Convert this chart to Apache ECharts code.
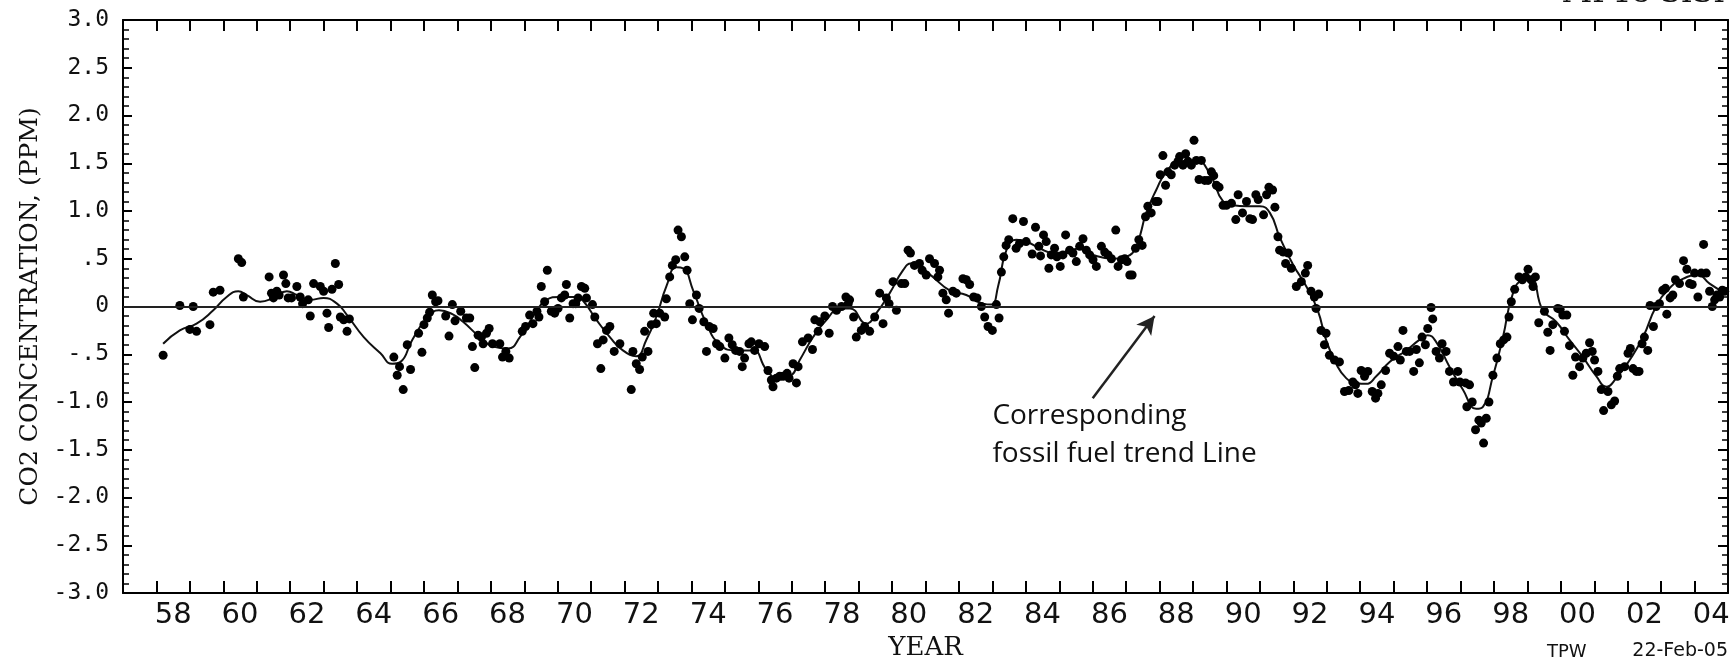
<!DOCTYPE html>
<html>
<head>
<meta charset="utf-8">
<script src="https://cdn.jsdelivr.net/npm/echarts@6/dist/echarts.min.js"></script>
<style>
html,body{margin:0;padding:0;background:#ffffff;}
#chart{width:1730px;height:666px;}
</style>
</head>
<body>
<div id="chart"></div>
<script>
// ---------------- DATA ----------------
const yearCategories = [1957,1958,1959,1960,1961,1962,1963,1964,1965,1966,1967,1968,1969,1970,
  1971,1972,1973,1974,1975,1976,1977,1978,1979,1980,1981,1982,1983,1984,1985,1986,1987,1988,
  1989,1990,1991,1992,1993,1994,1995,1996,1997,1998,1999,2000,2001,2002,2003,2004];

const obs1950s = [[1958.2,-0.51],[1958.7,0.01],[1959.0,-0.24],[1959.1,0.00],[1959.2,-0.26],[1959.6,-0.19],[1959.7,0.15],[1959.9,0.17]];

const obs1960s = [[1960.45,0.50],[1960.55,0.46],[1960.6,0.10],
 [1961.37,0.31],[1961.44,0.14],[1961.5,0.09],[1961.6,0.16],[1961.67,0.12],[1961.8,0.33],[1961.87,0.24],[1961.94,0.09],
 [1962.04,0.09],[1962.2,0.21],[1962.3,0.10],[1962.37,0.03],[1962.54,0.07],[1962.6,-0.10],[1962.7,0.24],[1962.9,0.21],
 [1963.0,0.16],[1963.1,-0.07],[1963.15,-0.22],[1963.25,0.18],[1963.35,0.45],[1963.45,0.23],[1963.5,-0.11],[1963.6,-0.14],[1963.7,-0.26],[1963.77,-0.13],
 [1965.1,-0.53],[1965.2,-0.72],[1965.27,-0.63],[1965.38,-0.87],[1965.5,-0.40],[1965.6,-0.66],[1965.84,-0.28],[1965.94,-0.48],
 [1966.0,-0.19],[1966.1,-0.12],[1966.17,-0.06],[1966.25,0.12],[1966.35,0.05],[1966.42,0.06],[1966.65,-0.10],[1966.75,-0.31],[1966.85,0.02],[1966.93,-0.15],
 [1967.1,-0.05],[1967.27,-0.12],[1967.37,-0.12],[1967.45,-0.42],[1967.52,-0.64],[1967.62,-0.30],[1967.72,-0.32],[1967.77,-0.39],[1967.87,-0.28],[1967.95,-0.23],
 [1968.05,-0.39],[1968.27,-0.39],[1968.35,-0.53],[1968.45,-0.47],[1968.55,-0.54],[1968.94,-0.26],
 [1969.04,-0.21],[1969.16,-0.09],[1969.26,-0.18],[1969.38,-0.05],[1969.44,-0.11],[1969.51,0.21],[1969.61,0.05],[1969.69,0.38],[1969.81,-0.05],[1969.91,-0.07]];

const obs1970s = [[1970.01,-0.02],[1970.11,0.09],[1970.21,0.12],[1970.26,0.23],[1970.36,-0.12],[1970.46,0.03],[1970.54,0.03],[1970.61,0.09],[1970.71,0.21],[1970.81,0.19],[1970.86,0.09],
 [1971.04,0.02],[1971.11,-0.11],[1971.19,-0.39],[1971.29,-0.65],[1971.36,-0.35],[1971.46,-0.25],[1971.56,-0.21],[1971.69,-0.47],[1971.86,-0.39],
 [1972.2,-0.87],[1972.25,-0.47],[1972.35,-0.60],[1972.45,-0.66],[1972.53,-0.53],[1972.6,-0.26],[1972.7,-0.47],[1972.8,-0.19],[1972.87,-0.07],[1972.95,-0.18],
 [1973.05,-0.07],[1973.2,-0.11],[1973.25,0.08],[1973.35,0.31],[1973.43,0.43],[1973.53,0.49],[1973.6,0.80],[1973.7,0.73],[1973.8,0.52],[1973.87,0.38],[1973.95,0.03],
 [1974.03,-0.14],[1974.15,0.12],[1974.23,-0.02],[1974.37,-0.16],[1974.45,-0.47],[1974.53,-0.21],[1974.65,-0.23],[1974.75,-0.39],[1974.85,-0.42],
 [1975.0,-0.54],[1975.12,-0.33],[1975.22,-0.40],[1975.32,-0.46],[1975.44,-0.47],[1975.52,-0.63],[1975.59,-0.54],[1975.72,-0.39],[1975.79,-0.37],[1975.89,-0.46],
 [1976.02,-0.39],[1976.19,-0.42],[1976.29,-0.67],[1976.39,-0.77],[1976.44,-0.84],[1976.54,-0.75],[1976.64,-0.73],[1976.74,-0.73],[1976.86,-0.70],[1976.92,-0.75],
 [1977.04,-0.60],[1977.14,-0.80],[1977.19,-0.63],[1977.32,-0.37],[1977.49,-0.33],[1977.62,-0.45],[1977.69,-0.14],[1977.79,-0.26],[1977.84,-0.16],[1977.99,-0.10],
 [1978.12,-0.28],[1978.22,0.00],[1978.34,-0.04],[1978.49,0.00],[1978.62,0.10],[1978.69,0.03],[1978.73,0.07],[1978.85,-0.11],[1978.93,-0.32],
 [1979.08,-0.25],[1979.18,-0.21],[1979.33,-0.26],[1979.48,-0.11],[1979.63,0.14],[1979.73,-0.18],[1979.83,0.09],[1979.91,0.03]];

const obs1980s = [[1980.03,0.26],[1980.13,-0.04],[1980.28,0.24],[1980.38,0.24],[1980.48,0.59],[1980.55,0.56],[1980.67,0.43],[1980.82,0.45],[1980.9,0.38],
 [1981.02,0.33],[1981.12,0.50],[1981.27,0.45],[1981.37,0.31],[1981.42,0.38],[1981.52,0.14],[1981.62,0.07],[1981.69,-0.07],[1981.82,0.16],[1981.92,0.14],
 [1982.12,0.29],[1982.22,0.28],[1982.32,0.23],[1982.44,0.10],[1982.54,0.09],[1982.67,0.00],[1982.77,-0.11],[1982.87,-0.21],
 [1983.0,-0.25],[1983.12,0.02],[1983.2,-0.12],[1983.27,0.36],[1983.34,0.52],[1983.41,0.64],[1983.49,0.70],[1983.61,0.92],[1983.71,0.61],[1983.81,0.66],[1983.93,0.89],
 [1984.01,0.68],[1984.19,0.55],[1984.29,0.83],[1984.39,0.63],[1984.44,0.53],[1984.53,0.75],[1984.61,0.68],[1984.69,0.40],[1984.76,0.54],[1984.86,0.61],[1984.93,0.52],
 [1985.03,0.42],[1985.11,0.54],[1985.19,0.75],[1985.31,0.59],[1985.41,0.56],[1985.51,0.47],[1985.61,0.63],[1985.71,0.71],[1985.81,0.59],[1985.91,0.54],
 [1986.01,0.49],[1986.11,0.42],[1986.26,0.63],[1986.36,0.57],[1986.46,0.54],[1986.56,0.50],[1986.69,0.80],[1986.76,0.42],[1986.86,0.49],[1986.96,0.50],
 [1987.03,0.47],[1987.11,0.33],[1987.18,0.33],[1987.28,0.61],[1987.38,0.70],[1987.48,0.64],[1987.58,0.94],[1987.65,1.05],[1987.75,0.98],[1987.88,1.10],[1987.95,1.10],
 [1988.02,1.38],[1988.1,1.58],[1988.18,1.27],[1988.25,1.41],[1988.35,1.38],[1988.45,1.48],[1988.55,1.52],[1988.6,1.57],[1988.7,1.48],[1988.78,1.60],[1988.85,1.52],[1988.95,1.48],
 [1989.03,1.74],[1989.1,1.53],[1989.18,1.33],[1989.25,1.53],[1989.35,1.32],[1989.45,1.32],[1989.55,1.41],[1989.62,1.37],[1989.7,1.27],[1989.78,1.25],[1989.9,1.06]];

const obs1990s = [[1990.0,1.06],[1990.15,1.08],[1990.28,0.91],[1990.35,1.17],[1990.48,0.98],[1990.6,1.10],[1990.7,0.92],[1990.78,0.91],[1990.88,1.17],[1990.95,1.12],
 [1991.11,0.96],[1991.2,1.17],[1991.27,1.25],[1991.38,1.22],[1991.45,1.04],[1991.54,0.73],[1991.59,0.59],[1991.7,0.57],[1991.77,0.45],[1991.85,0.56],[1991.94,0.40],
 [1992.09,0.21],[1992.24,0.26],[1992.36,0.35],[1992.43,0.43],[1992.53,0.16],[1992.63,0.10],[1992.68,-0.02],[1992.76,0.13],[1992.83,-0.25],[1992.93,-0.40],[1992.98,-0.28],
 [1993.08,-0.51],[1993.23,-0.56],[1993.38,-0.58],[1993.53,-0.89],[1993.66,-0.88],[1993.78,-0.79],[1993.86,-0.82],[1993.93,-0.91],
 [1994.03,-0.67],[1994.13,-0.73],[1994.23,-0.68],[1994.36,-0.89],[1994.46,-0.96],[1994.53,-0.91],[1994.63,-0.82],[1994.76,-0.67],[1994.88,-0.49],
 [1995.0,-0.52],[1995.13,-0.42],[1995.2,-0.56],[1995.28,-0.25],[1995.38,-0.47],[1995.48,-0.47],[1995.6,-0.68],[1995.68,-0.45],[1995.77,-0.59],[1995.85,-0.32],[1995.95,-0.40],
 [1996.02,-0.23],[1996.12,-0.01],[1996.17,-0.13],[1996.27,-0.47],[1996.37,-0.54],[1996.45,-0.39],[1996.57,-0.47],[1996.67,-0.68],[1996.79,-0.79],[1996.92,-0.68],[1996.98,-0.79],
 [1997.15,-0.80],[1997.19,-1.05],[1997.27,-0.82],[1997.35,-1.00],[1997.45,-1.29],[1997.55,-1.19],[1997.62,-1.22],[1997.69,-1.43],[1997.77,-1.17],[1997.85,-1.00],[1997.97,-0.72],
 [1998.09,-0.54],[1998.19,-0.39],[1998.29,-0.35],[1998.39,-0.32],[1998.45,-0.11],[1998.52,0.05],[1998.62,0.18],[1998.75,0.31],[1998.85,0.28],[1998.95,0.31],
 [1999.02,0.39],[1999.11,0.28],[1999.17,0.21],[1999.24,0.31],[1999.34,-0.17],[1999.51,-0.05],[1999.61,-0.27],[1999.68,-0.46],[1999.76,-0.19],[1999.91,-0.02],[1999.98,-0.03]];

const obs2000s = [[2000.06,-0.09],[2000.11,-0.26],[2000.18,-0.09],[2000.26,-0.41],[2000.36,-0.72],[2000.44,-0.53],[2000.56,-0.63],[2000.66,-0.54],[2000.76,-0.49],[2000.86,-0.38],[2000.94,-0.47],
 [2001.01,-0.56],[2001.11,-0.68],[2001.21,-0.87],[2001.28,-1.09],[2001.41,-0.89],[2001.51,-1.03],[2001.61,-0.99],[2001.69,-0.73],[2001.76,-0.65],[2001.91,-0.63],
 [2002.01,-0.49],[2002.08,-0.44],[2002.16,-0.65],[2002.26,-0.68],[2002.34,-0.68],[2002.43,-0.39],[2002.5,-0.32],[2002.6,-0.46],[2002.67,0.01],[2002.77,-0.21],[2002.85,0.00],[2002.95,0.03],
 [2003.05,0.17],[2003.13,0.19],[2003.17,-0.08],[2003.27,0.09],[2003.35,0.12],[2003.43,0.28],[2003.55,0.24],[2003.67,0.48],[2003.77,0.39],[2003.85,0.24],[2003.93,0.23],
 [2004.0,0.35],[2004.1,0.10],[2004.2,0.35],[2004.27,0.65],[2004.35,0.35],[2004.45,0.16],[2004.53,0.00],[2004.6,0.07],[2004.67,0.12],[2004.75,0.10],[2004.83,0.17],[2004.9,0.16]];

const trendCurve = [[1958.2,-0.39],[1958.7,-0.25],[1959.2,-0.18],[1959.7,-0.04],[1960.1,0.10],[1960.45,0.16],[1960.7,0.12],
 [1961.1,0.05],[1961.5,0.09],[1961.9,0.16],[1962.2,0.12],[1962.6,0.07],[1963.0,0.09],[1963.4,0.03],[1963.7,-0.09],
 [1964.2,-0.32],[1964.7,-0.49],[1965.05,-0.60],[1965.3,-0.58],[1965.65,-0.35],[1966.05,-0.14],[1966.45,-0.04],[1966.85,-0.08],
 [1967.17,-0.16],[1967.67,-0.32],[1968.07,-0.42],[1968.52,-0.44],[1968.87,-0.32],[1969.37,-0.05],[1969.66,0.07],
 [1970.06,0.10],[1970.56,0.10],[1970.76,0.06],[1971.16,-0.14],[1971.56,-0.32],[1971.95,-0.46],[1972.35,-0.52],[1972.65,-0.35],
 [1972.95,-0.11],[1973.25,0.21],[1973.55,0.41],[1973.75,0.40],[1974.05,0.17],[1974.45,-0.18],[1974.85,-0.40],[1975.35,-0.46],
 [1975.84,-0.46],[1976.24,-0.66],[1976.59,-0.75],[1976.94,-0.73],[1977.24,-0.56],[1977.64,-0.32],[1978.04,-0.14],[1978.44,-0.02],
 [1978.74,-0.02],[1979.23,-0.18],[1979.53,-0.07],[1979.93,0.14],[1980.33,0.38],[1980.57,0.45],[1980.82,0.42],[1981.22,0.31],
 [1981.72,0.17],[1982.22,0.12],[1982.72,0.03],[1982.97,0.02],[1983.17,0.21],[1983.42,0.59],[1983.72,0.70],[1984.01,0.68],
 [1984.41,0.61],[1984.81,0.56],[1985.21,0.57],[1985.61,0.61],[1986.01,0.54],[1986.6,0.50],[1987.0,0.52],[1987.3,0.63],
 [1987.6,0.98],[1987.9,1.22],[1988.2,1.41],[1988.6,1.52],[1989.1,1.53],[1989.5,1.39],[1989.9,1.10],[1990.2,1.06],
 [1990.6,1.05],[1991.0,1.05],[1991.3,0.98],[1991.6,0.72],[1991.99,0.44],[1992.39,0.21],[1992.73,-0.04],[1992.98,-0.35],
 [1993.28,-0.60],[1993.58,-0.75],[1993.88,-0.80],[1994.18,-0.81],[1994.48,-0.73],[1994.88,-0.58],[1995.38,-0.46],[1995.77,-0.35],
 [1996.02,-0.30],[1996.27,-0.37],[1996.67,-0.63],[1997.07,-0.87],[1997.47,-1.07],[1997.67,-1.05],[1997.97,-0.73],[1998.27,-0.32],
 [1998.57,0.14],[1998.87,0.28],[1999.11,0.29],[1999.46,-0.04],[1999.86,-0.16],[2000.26,-0.35],[2000.66,-0.53],[2001.06,-0.73],
 [2001.36,-0.84],[2001.66,-0.75],[2002.06,-0.56],[2002.46,-0.32],[2002.85,0.00],[2003.25,0.19],[2003.65,0.29],[2004.1,0.33],
 [2004.45,0.24],[2004.9,0.14]];

// annotation arrow (data space) and text anchor
const arrowTail = [1986.0, -0.96];
const arrowTip = [1987.85, -0.10];
const noteAnchor = [1983.0, -0.95];
const noteText = 'Corresponding\nfossil fuel trend Line';

// ---------------- CHART ----------------
const observations = [].concat(obs1950s, obs1960s, obs1970s, obs1980s, obs1990s, obs2000s);
const chart = echarts.init(document.getElementById('chart'), null, {renderer: 'canvas'});

function yFmt(v) {
  if (Math.abs(v) < 1e-9) return '0';
  let s = Math.abs(v).toFixed(1);
  if (Math.abs(v) < 1) s = s.slice(1);
  return (v < 0 ? '-' : '') + s;
}

const black = '#000';
const axisLineStyle = {color: black, width: 2};

chart.setOption({
  animation: false,
  backgroundColor: '#fff',
  grid: {left: 123, right: 2, top: 20, bottom: 73, containLabel: false, outerBoundsMode: 'none'},
  xAxis: [
    {
      type: 'category', data: yearCategories, position: 'bottom', boundaryGap: true,
      axisLine: {show: true, onZero: false, lineStyle: axisLineStyle},
      axisTick: {show: true, inside: true, length: 12, interval: 0, lineStyle: {color: black, width: 2}},
      axisLabel: {
        interval: function (i, v) { return Number(v) % 2 === 0; },
        formatter: function (v) { return String(v).slice(2); },
        fontFamily: 'DejaVu Sans', fontSize: 29, color: '#111', margin: 8
      },
      splitLine: {show: false},
      name: 'YEAR', nameLocation: 'middle', nameGap: 42,
      nameTextStyle: {fontFamily: 'DejaVu Serif', fontSize: 26, color: '#111'}
    },
    {
      type: 'value', position: 'top', min: 1957, max: 2005, interval: 1,
      axisLine: {show: true, onZero: false, lineStyle: axisLineStyle},
      axisTick: {show: true, inside: true, length: 11, lineStyle: {color: black, width: 2}},
      axisLabel: {show: false}, splitLine: {show: false}
    }
  ],
  yAxis: [
    {
      type: 'value', position: 'left', min: -3, max: 3, interval: 0.5,
      axisLine: {show: true, onZero: false, lineStyle: axisLineStyle},
      axisTick: {show: true, inside: true, length: 9, lineStyle: {color: black, width: 2}},
      minorTick: {show: true, splitNumber: 5, length: 6, lineStyle: {color: black, width: 1.5}},
      axisLabel: {formatter: yFmt, fontFamily: 'DejaVu Sans Mono', fontSize: 23, color: '#111', margin: 14},
      splitLine: {show: false}, minorSplitLine: {show: false},
      name: 'CO2 CONCENTRATION, (PPM)', nameLocation: 'middle', nameGap: 72, nameRotate: 90,
      nameTextStyle: {fontFamily: 'DejaVu Serif', fontSize: 25, color: '#111'}
    },
    {
      type: 'value', position: 'right', min: -3, max: 3, interval: 0.5,
      axisLine: {show: true, onZero: false, lineStyle: axisLineStyle},
      axisTick: {show: true, inside: true, length: 10, lineStyle: {color: black, width: 2}},
      minorTick: {show: true, splitNumber: 5, length: 6, lineStyle: {color: black, width: 1.5}},
      axisLabel: {show: false}, splitLine: {show: false}, minorSplitLine: {show: false}
    }
  ],
  series: [
    {
      name: 'trend', type: 'line', xAxisIndex: 1, yAxisIndex: 0,
      data: trendCurve, smooth: 0.5, showSymbol: false, symbol: 'none',
      lineStyle: {color: '#111', width: 2}, z: 2, silent: true,
      markLine: {
        silent: true, symbol: ['none', 'none'], label: {show: false}, animation: false,
        data: [
          {yAxis: 0, lineStyle: {color: '#222', width: 1.8, type: 'solid'}},
          [
            {coord: arrowTail, symbol: 'none', lineStyle: {color: '#222', width: 2.5, type: 'solid'}},
            {coord: arrowTip, symbol: 'arrow', symbolSize: [14, 18]}
          ]
        ]
      }
    },
    {
      name: 'observed', type: 'scatter', xAxisIndex: 1, yAxisIndex: 0,
      data: observations, symbol: 'circle', symbolSize: 9,
      itemStyle: {color: '#000', opacity: 1}, z: 3, silent: true
    }
  ]
});

const notePos = chart.convertToPixel({xAxisIndex: 1, yAxisIndex: 0}, noteAnchor);
chart.setOption({
  graphic: [
    {type: 'text', x: notePos[0], y: notePos[1], silent: true,
     style: {text: noteText, fontFamily: 'Open Sans', fontSize: 28, lineHeight: 38, fill: '#111', align: 'left', verticalAlign: 'top'}},
    {type: 'text', x: 1725, y: 9, silent: true,
     style: {text: 'MP18 SISI', fontFamily: 'DejaVu Serif', fontSize: 30, fill: '#111', align: 'right', verticalAlign: 'bottom'}},
    {type: 'text', x: 1547, y: 661, silent: true,
     style: {text: 'TPW', fontFamily: 'DejaVu Sans', fontSize: 18, fill: '#111', align: 'left', verticalAlign: 'bottom'}},
    {type: 'text', x: 1728, y: 661, silent: true,
     style: {text: '22-Feb-05', fontFamily: 'DejaVu Sans', fontSize: 19, fill: '#111', align: 'right', verticalAlign: 'bottom'}}
  ]
});
</script>
</body>
</html>
